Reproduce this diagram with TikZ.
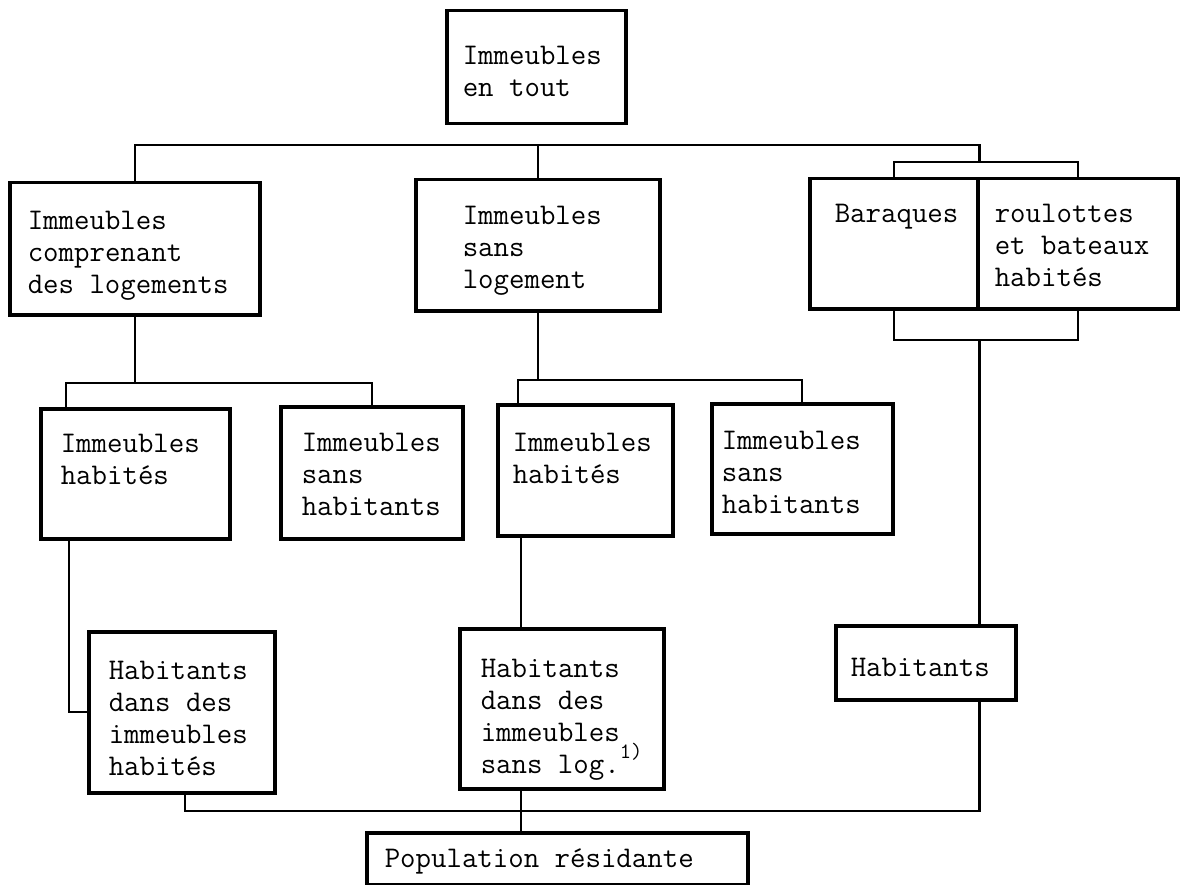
\documentclass[tikz,border=0pt]{standalone}
\tikzset{
  box/.style = {draw, line width=3.5pt, anchor=north west, inner sep=0pt},
  link/.style = {line width=2.2pt}
}
% 枠の中身: 幅, 高さ, 左余白, 上余白, 文字
\newcommand{\cell}[5]{\parbox[c][#2pt][t]{#1pt}{\vspace*{#4pt}\leftskip=#3pt\strut #5}}

\begin{document}
\begin{tikzpicture}[x=1pt, y=-1pt, font=\ttfamily\fontsize{30}{31.7}\selectfont]
\useasboundingbox (0,0) rectangle (1182,885);

% 一段目
\node[box] (imtout) at (445,9) {\cell{179}{113}{16}{32}{Immeubles\\en tout}};

% 二段目
\node[box] (comp) at (8,181) {\cell{250}{132}{18}{25}{Immeubles\\comprenant\\des logements}};
\node[box] (sanslog) at (414,178) {\cell{244}{131}{47}{23}{Immeubles\\sans\\logement}};
\node[box] (bar) at (808,177) {\cell{168}{130}{25}{22}{Baraques}};
\node[box] (rou) at (976,177) {\cell{200}{130}{17}{22}{roulottes\\et bateaux\\habités}};

% 三段目
\node[box] (habA) at (39,407) {\cell{189}{130}{20}{22}{Immeubles\\habités}};
\node[box] (sansA) at (279,405) {\cell{182}{132}{21}{23}{Immeubles\\sans\\habitants}};
\node[box] (habB) at (496,403) {\cell{175}{131}{15}{25}{Immeubles\\habités}};
\node[box] (sansB) at (710,402) {\cell{181}{130}{10}{24}{Immeubles\\sans\\habitants}};

% 四段目
\node[box] (popA) at (87,630) {\cell{186}{161}{20}{26}{Habitants\\dans des\\immeubles\\habités}};
\node[box] (popB) at (458,627) {\cell{204}{160}{21}{27}{Habitants\\dans des\\immeubles\\sans log.\raisebox{15pt}{\fontsize{22}{22}\selectfont 1)}}};
\node[box] (popC) at (834,624) {\cell{180}{74}{15}{29}{Habitants}};

% 合計
\node[box] (popres) at (365,831) {\cell{381}{52}{18}{13}{Population résidante}};

% 横線の高さ
\coordinate (bus) at (0,145);
\coordinate (brk) at (0,162);
\coordinate (brkB) at (0,340);
\coordinate (subA) at (0,383);
\coordinate (subB) at (0,380);
\coordinate (botbus) at (0,811);
\coordinate (vx) at ([xshift=25pt]habB.south west);

% 上の線
\draw[link] (comp.north) |- (bar.north east |- bus) -- (bar.north east |- brk);
\draw[link] (sanslog.north) -- (sanslog.north |- bus);
\draw[link] (bar.north) |- (rou.north |- brk) -- (rou.north);

% 中の線
\draw[link] (comp.south) -- (comp.south |- subA);
\draw[link] ([xshift=27pt]habA.north west) |- (sansA.north |- subA) -- (sansA.north);
\draw[link] (sanslog.south) -- (sanslog.south |- subB);
\draw[link] ([xshift=22pt]habB.north west) |- (sansB.north |- subB) -- (sansB.north);
\draw[link] (bar.south) |- (rou.south |- brkB) -- (rou.south);
\draw[link] (bar.south east |- brkB) -- (popC.north -| bar.south east);

% 下の線
\draw[link] ([xshift=30pt]habA.south west) |- (popA.west);
\draw[link] (vx) -- (popB.north -| vx);
\draw[link] (popB.south -| vx) -- (popres.north -| vx);
\draw[link] ([xshift=98pt]popA.south west) |- (bar.east |- botbus) -- (popC.south -| bar.east);
\end{tikzpicture}
\end{document}
